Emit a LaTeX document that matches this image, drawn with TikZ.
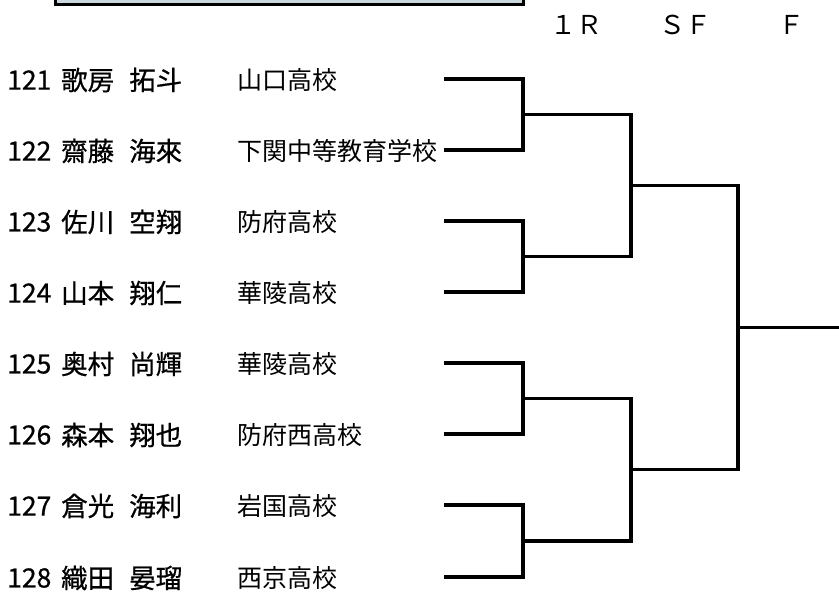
\documentclass[tikz,border=0pt]{standalone}
\usepackage{fontspec}
\setmainfont{Noto Sans CJK JP}
\newfontfamily\namefont[FakeBold=0.7]{Noto Sans CJK JP}
\usepackage{tikz}
\definecolor{boxfill}{RGB}{200,216,220}
\newcommand{\entryfont}{\fontsize{25}{30}\selectfont}
\newcommand{\playerfont}{\namefont\fontsize{26.5}{30}\selectfont\spaceskip 15pt\relax}
\tikzset{
	entry/.style={inner sep=0pt, anchor=west, font=\entryfont},
	player/.style={entry, font=\playerfont},
	round/.style={inner sep=0pt, font=\fontsize{26}{30}\selectfont},
	bracket/.style={line width=3.4pt, color=black}
}

\begin{document}
\begin{tikzpicture}[x=1pt, y=-1pt]
			%%%%% START %%%%%
			\useasboundingbox (0, 0) rectangle (839, 594);
			
			\draw[line width=3pt, fill=boxfill] (55, -40) rectangle (523.5, 4.2);
			
			\node[round] (r1) at (576, 25) {１Ｒ};
			\node[round] (sf) at (685, 25) {ＳＦ};
			\node[round] (fin) at (791, 25) {Ｆ};
			
			\node[player] (n121) at (7, 80) {121};
			\node[player] (p121) at (61, 80) {歌房 拓斗};
			\node[entry] (s121) at (237, 80) {山口高校};
			
			\node[player] (n122) at (7, 151) {122};
			\node[player] (p122) at (61, 151) {齋藤 海來};
			\node[entry] (s122) at (237, 151) {下関中等教育学校};
			
			\node[player] (n123) at (7, 222) {123};
			\node[player] (p123) at (61, 222) {佐川 空翔};
			\node[entry] (s123) at (237, 222) {防府高校};
			
			\node[player] (n124) at (7, 293) {124};
			\node[player] (p124) at (61, 293) {山本 翔仁};
			\node[entry] (s124) at (237, 293) {華陵高校};
			
			\node[player] (n125) at (7, 364) {125};
			\node[player] (p125) at (61, 364) {奥村 尚輝};
			\node[entry] (s125) at (237, 364) {華陵高校};
			
			\node[player] (n126) at (7, 435) {126};
			\node[player] (p126) at (61, 435) {森本 翔也};
			\node[entry] (s126) at (237, 435) {防府西高校};
			
			\node[player] (n127) at (7, 506) {127};
			\node[player] (p127) at (61, 506) {倉光 海利};
			\node[entry] (s127) at (237, 506) {岩国高校};
			
			\node[player] (n128) at (7, 578) {128};
			\node[player] (p128) at (61, 578) {織田 晏瑠};
			\node[entry] (s128) at (237, 578) {西京高校};
			
			% line starts
			\coordinate (e121) at (444, 79);
			\coordinate (e122) at (444, 150);
			\coordinate (e123) at (444, 221);
			\coordinate (e124) at (444, 292);
			\coordinate (e125) at (444, 363);
			\coordinate (e126) at (444, 434);
			\coordinate (e127) at (444, 505);
			\coordinate (e128) at (444, 577);
			
			% joints
			\coordinate (q1) at (523, 114.5);
			\coordinate (q2) at (523, 256.5);
			\coordinate (q3) at (523, 398.5);
			\coordinate (q4) at (523, 541);
			\coordinate (h1) at (631, 185.5);
			\coordinate (h2) at (631, 469.75);
			\coordinate (f1) at (738, 327.6);
			\coordinate (win) at (845, 327.6);
			
			\draw[bracket] (e121) -| (q1) |- (e122);
			\draw[bracket] (e123) -| (q2) |- (e124);
			\draw[bracket] (e125) -| (q3) |- (e126);
			\draw[bracket] (e127) -| (q4) |- (e128);
			
			\draw[bracket] (q1) -| (h1) |- (q2);
			\draw[bracket] (q3) -| (h2) |- (q4);
			
			\draw[bracket] (h1) -| (f1) |- (h2);
			\draw[bracket] (f1) -- (win);
			
			%%%%% END %%%%%
		\end{tikzpicture}
\end{document}
